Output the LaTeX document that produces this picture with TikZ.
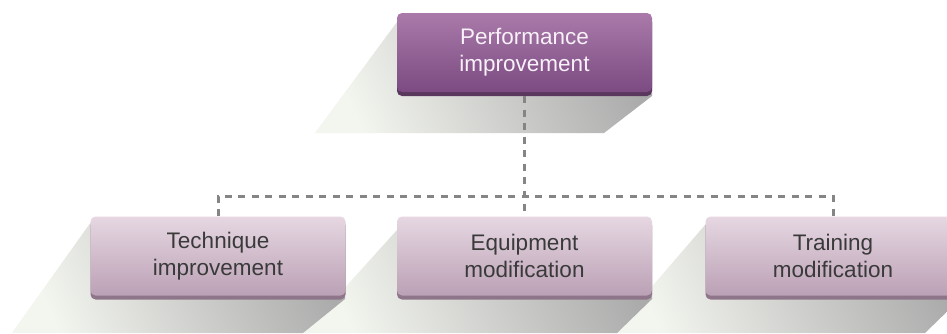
\documentclass[tikz,border=0pt]{standalone}
\usepackage{fontspec}
\setmainfont{Liberation Sans}
\usetikzlibrary{shadows}
\definecolor{topA}{HTML}{A97AA9}
\definecolor{topB}{HTML}{7B4B82}
\definecolor{topBand}{HTML}{5A385E}
\definecolor{botA}{HTML}{E6D7E2}
\definecolor{botB}{HTML}{BBA1B5}
\definecolor{botBand}{HTML}{8E7589}
\definecolor{shLight}{HTML}{F3F5EF}
\definecolor{shMid}{HTML}{E9EAE7}
\definecolor{shDark}{HTML}{ABABAB}
\definecolor{lineGray}{HTML}{858585}
\definecolor{txtDark}{HTML}{3A3A3A}
\definecolor{txtLight}{HTML}{F8F1F8}
\begin{document}
\begin{tikzpicture}[x=1pt,y=-1pt,
  boxbase/.style={rounded corners=5pt, minimum width=255pt, minimum height=79pt,
    align=center, font=\fontsize{22.5}{27}\selectfont, inner sep=0pt},
  topbox/.style={boxbase, top color=topA, bottom color=topB, text=txtLight,
    general shadow={shadow yshift=-4pt, fill=topBand}},
  subbox/.style={boxbase, top color=botA, bottom color=botB, text=txtDark,
    general shadow={shadow yshift=-4pt, fill=botBand}},
  castshadow/.style={top color=shDark, middle color=shMid, bottom color=shLight, shading angle=-65},
  conn/.style={draw=lineGray, line width=3pt, dash pattern=on 7pt off 6.5pt}
]
\clip (0,0) rectangle (947,333);
\fill[white] (0,0) rectangle (947,333);
% cast shadows
\shade[castshadow] (397,22) -- (315,133) -- (604,133) -- (652,96) -- (652,22) -- cycle;
\shade[castshadow] (705,225) -- (612,333) -- (925,333) -- (960,299) -- (960,225) -- cycle;
\shade[castshadow] (397,230) -- (304,333) -- (617,333) -- (652,299) -- (652,225) -- (397,225) -- cycle;
\shade[castshadow] (91,222) -- (12,333) -- (303,333) -- (345,299) -- (345,222) -- cycle;
% nodes
\node[topbox] (top) at (524.5,52.5) {Performance\\improvement};
\node[subbox] (tech) at (218,256) {Technique\\improvement};
\node[subbox] (equip) at (524.5,256) {Equipment\\modification};
\node[subbox] (train) at (833,256) {Training\\modification};
\coordinate (j) at (524.5,196);
% connectors
\draw[conn] (top.south) ++(0,4) -- (equip.north);
\draw[conn] (tech.north) -- (tech.north |- j) -- (train.north |- j) -- (train.north);
\end{tikzpicture}
\end{document}
